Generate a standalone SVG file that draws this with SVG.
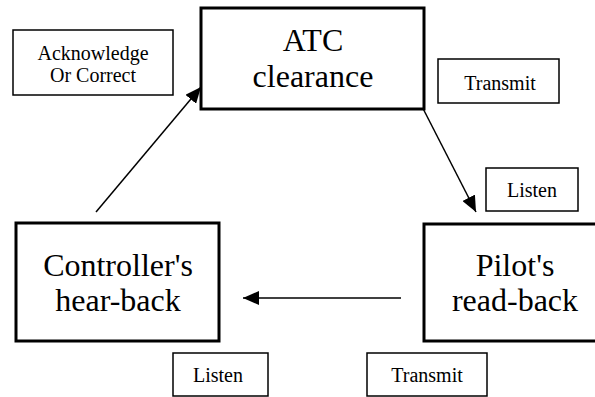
<svg xmlns="http://www.w3.org/2000/svg" width="595" height="397" viewBox="0 0 595 397">
<style>
.big{fill:#fff;stroke:#000;stroke-width:3}
.small{fill:#fff;stroke:#000;stroke-width:1.5}
.bt{font-family:"Liberation Serif","Times New Roman",serif;font-size:32px;text-anchor:middle;fill:#000}
.st{font-family:"Liberation Serif","Times New Roman",serif;font-size:20px;text-anchor:middle;fill:#000}
.conn{stroke:#000;stroke-width:1.5;fill:none;marker-end:url(#ah)}
</style>
<defs>
<marker id="ah" markerUnits="userSpaceOnUse" markerWidth="18" markerHeight="14" refX="16" refY="7" orient="auto">
<path d="M0,0 L16,7 L0,14 Z" fill="#000"/>
</marker>
</defs>
<rect width="595" height="397" fill="#fff"/>
<g id="connectors">
<line class="conn" x1="96" y1="212" x2="201" y2="87"/>
<line class="conn" x1="412" y1="87" x2="476" y2="212"/>
<line class="conn" x1="401" y1="298" x2="243" y2="298"/>
</g>
<g id="atc">
<rect class="big" x="201" y="8" width="223" height="101"/>
<text class="bt" x="313" y="51">ATC</text>
<text class="bt" x="313" y="87">clearance</text>
</g>
<g id="controller">
<rect class="big" x="16" y="223" width="203" height="118"/>
<text class="bt" x="118" y="276">Controller's</text>
<text class="bt" x="118" y="311">hear-back</text>
</g>
<g id="pilot">
<rect class="big" x="424" y="224" width="190" height="117"/>
<text class="bt" x="515" y="276">Pilot's</text>
<text class="bt" x="515" y="311">read-back</text>
</g>
<g id="ack">
<rect class="small" x="13" y="30" width="160" height="65"/>
<text class="st" x="93" y="60">Acknowledge</text>
<text class="st" x="93" y="82">Or Correct</text>
</g>
<g id="transmit1">
<rect class="small" x="438" y="59" width="121" height="44"/>
<text class="st" x="500" y="90">Transmit</text>
</g>
<g id="listen1">
<rect class="small" x="486" y="168" width="92" height="43"/>
<text class="st" x="532" y="197">Listen</text>
</g>
<g id="listen2">
<rect class="small" x="173" y="353" width="95" height="43"/>
<text class="st" x="218" y="382">Listen</text>
</g>
<g id="transmit2">
<rect class="small" x="367" y="353" width="120" height="43"/>
<text class="st" x="427" y="382">Transmit</text>
</g>
</svg>
